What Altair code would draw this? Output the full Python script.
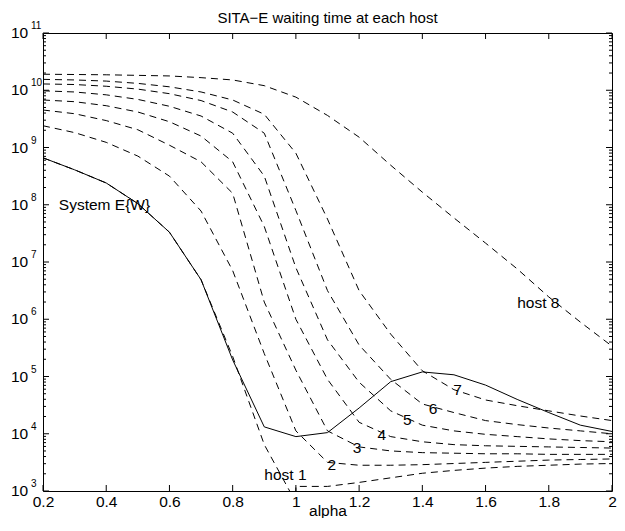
import altair as alt
import pandas as pd

# ---- data (values as log10 of waiting time) ----
alpha = [0.2, 0.3, 0.4, 0.5, 0.6, 0.7, 0.8, 0.9, 1.0, 1.1,
         1.2, 1.3, 1.4, 1.5, 1.6, 1.7, 1.8, 1.9, 2.0]

system_log = [8.82, 8.61, 8.38, 8.02, 7.52, 6.69, 5.29, 4.12, 3.95, 4.02,
              4.45, 4.91, 5.08, 5.03, 4.85, 4.60, 4.37, 4.15, 4.04]

host1_alpha = [0.2, 0.3, 0.4, 0.5, 0.6, 0.7, 0.8, 0.9, 1.0, 1.0,
               1.1, 1.2, 1.3, 1.4, 1.5, 1.6, 1.7, 1.8, 1.9, 2.0]
host1_log = [8.82, 8.61, 8.38, 8.02, 7.52, 6.69, 5.35, 3.81, 2.80, 3.08,
             3.08, 3.15, 3.23, 3.31, 3.36, 3.40, 3.43, 3.45, 3.47, 3.48]
host2_log = [9.38, 9.26, 9.09, 8.85, 8.50, 7.89, 6.85, 5.40, 4.05, 3.50,
             3.45, 3.45, 3.46, 3.48, 3.50, 3.52, 3.54, 3.55, 3.56]
host3_log = [9.655, 9.59, 9.47, 9.31, 9.04, 8.75, 8.20, 6.30, 5.11, 4.05,
             3.77, 3.70, 3.67, 3.66, 3.65, 3.65, 3.64, 3.64, 3.64]
host4_log = [9.83, 9.80, 9.73, 9.62, 9.45, 9.20, 8.75, 7.62, 6.00, 4.95,
             4.20, 3.95, 3.86, 3.81, 3.79, 3.78, 3.77, 3.76, 3.75]
host5_log = [9.99, 9.97, 9.92, 9.84, 9.72, 9.55, 9.25, 8.50, 6.90, 5.64,
             4.90, 4.40, 4.15, 4.05, 3.99, 3.95, 3.91, 3.88, 3.86]
host6_log = [10.11, 10.10, 10.07, 10.02, 9.94, 9.82, 9.62, 9.25, 7.90, 6.50,
             5.55, 4.95, 4.52, 4.37, 4.23, 4.16, 4.10, 4.05, 4.00]
host7_log = [10.19, 10.18, 10.16, 10.12, 10.06, 9.97, 9.83, 9.58, 8.90, 7.75,
             6.50, 5.74, 5.10, 4.77, 4.59, 4.49, 4.40, 4.31, 4.23]
host8_log = [10.28, 10.275, 10.27, 10.26, 10.25, 10.22, 10.18, 10.08, 9.88, 9.56,
             9.18, 8.69, 8.22, 7.77, 7.33, 6.88, 6.39, 5.95, 5.53]

label_text = ["System E{W}", "host 1", "2", "3", "4", "5", "6", "7", "host 8"]
label_alpha = [0.25, 0.90, 1.10, 1.18, 1.258, 1.339, 1.42, 1.498, 1.70]
label_log = [8.0, 3.28, 3.45, 3.75, 3.98, 4.24, 4.44, 4.76, 6.28]

x_tick_values = [0.2, 0.4, 0.6, 0.8, 1, 1.2, 1.4, 1.6, 1.8, 2]
y_exponents = [3, 4, 5, 6, 7, 8, 9, 10, 11]

TITLE = "SITA\u2212E waiting time at each host"
FONT = "Liberation Sans"
FS = 15.5
W, H = 569, 458

# ---- tables ----
rows = []
host_logs = [host1_log, host2_log, host3_log, host4_log,
             host5_log, host6_log, host7_log, host8_log]
for h, vals in enumerate(host_logs, start=1):
    xs = host1_alpha if h == 1 else alpha
    for i, (a, v) in enumerate(zip(xs, vals)):
        rows.append({"alpha": a, "value": 10 ** v, "series": f"host {h}", "order": i})
hosts_df = pd.DataFrame(rows)

sys_df = pd.DataFrame({"alpha": alpha, "value": [10 ** v for v in system_log],
                       "order": list(range(len(alpha)))})

labels_df = pd.DataFrame({"alpha": label_alpha,
                          "value": [10 ** v for v in label_log],
                          "text": label_text})

xt_df = pd.DataFrame({"alpha": x_tick_values})
ymaj_df = pd.DataFrame({"value": [10.0 ** k for k in y_exponents],
                        "base": ["10"] * len(y_exponents),
                        "exp": [str(k) for k in y_exponents]})
ymin_df = pd.DataFrame({"value": [m * 10.0 ** k for k in y_exponents[:-1] for m in range(2, 10)]})
title_df = pd.DataFrame({"t": [TITLE]})

xscale = alt.Scale(domain=[0.2, 2.0], nice=False, zero=False)
yscale = alt.Scale(type="log", domain=[1e3, 1e11], nice=False)

X = alt.X("alpha:Q", scale=xscale,
          axis=alt.Axis(values=x_tick_values, format="~g", ticks=False, domain=False,
                        grid=False, labelFlush=False, labelFontSize=FS, labelFont=FONT,
                        labelColor="black", labelPadding=3, title="alpha",
                        titleFontSize=FS, titleFont=FONT, titleFontWeight="normal",
                        titleColor="black", titleBaseline="alphabetic", titleY=24))
Y = alt.Y("value:Q", scale=yscale, axis=None)

hosts = alt.Chart(hosts_df).mark_line(color="black", strokeWidth=1, strokeDash=[7, 5],
                                      clip=True).encode(
    x=X, y=Y, detail="series:N", order="order:Q")

system = alt.Chart(sys_df).mark_line(color="black", strokeWidth=1, clip=True).encode(
    x=X, y=Y, order="order:Q")

labels = alt.Chart(labels_df).mark_text(align="left", baseline="middle", fontSize=FS,
                                        font=FONT, color="black").encode(
    x=X, y=Y, text="text:N")

tick_b = alt.Chart(xt_df).mark_rule(color="black", strokeWidth=1).encode(
    x=X, y=alt.value(H), y2=alt.value(H - 6))
tick_t = alt.Chart(xt_df).mark_rule(color="black", strokeWidth=1).encode(
    x=X, y=alt.value(0), y2=alt.value(6))
tick_l = alt.Chart(ymaj_df).mark_rule(color="black", strokeWidth=1).encode(
    y=Y, x=alt.value(0), x2=alt.value(6))
tick_r = alt.Chart(ymaj_df).mark_rule(color="black", strokeWidth=1).encode(
    y=Y, x=alt.value(W), x2=alt.value(W - 6))
mtick_l = alt.Chart(ymin_df).mark_rule(color="black", strokeWidth=1).encode(
    y=Y, x=alt.value(0), x2=alt.value(3))
mtick_r = alt.Chart(ymin_df).mark_rule(color="black", strokeWidth=1).encode(
    y=Y, x=alt.value(W), x2=alt.value(W - 3))

ylab_base = alt.Chart(ymaj_df).mark_text(align="left", baseline="middle", fontSize=FS,
                                         font=FONT, color="black").encode(
    y=Y, x=alt.value(-32), text="base:N")
ylab_exp = alt.Chart(ymaj_df).mark_text(align="left", baseline="middle", fontSize=10,
                                        font=FONT, color="black", dy=-7).encode(
    y=Y, x=alt.value(-12), text="exp:N")

title = alt.Chart(title_df).mark_text(align="center", baseline="alphabetic", fontSize=15,
                                      font=FONT, color="black").encode(
    x=alt.value(W / 2), y=alt.value(-10), text="t:N")

chart = alt.layer(
    hosts, system, labels, tick_b, tick_t, tick_l, tick_r, mtick_l, mtick_r,
    ylab_base, ylab_exp, title
).properties(
    width=W, height=H,
    autosize=alt.AutoSizeParams(type="none"),
    padding={"left": 35, "top": 25, "right": 5, "bottom": 27},
).configure_view(stroke="black", strokeWidth=1)

chart.save("out.html", embed_options={"renderer": "svg", "actions": False})
